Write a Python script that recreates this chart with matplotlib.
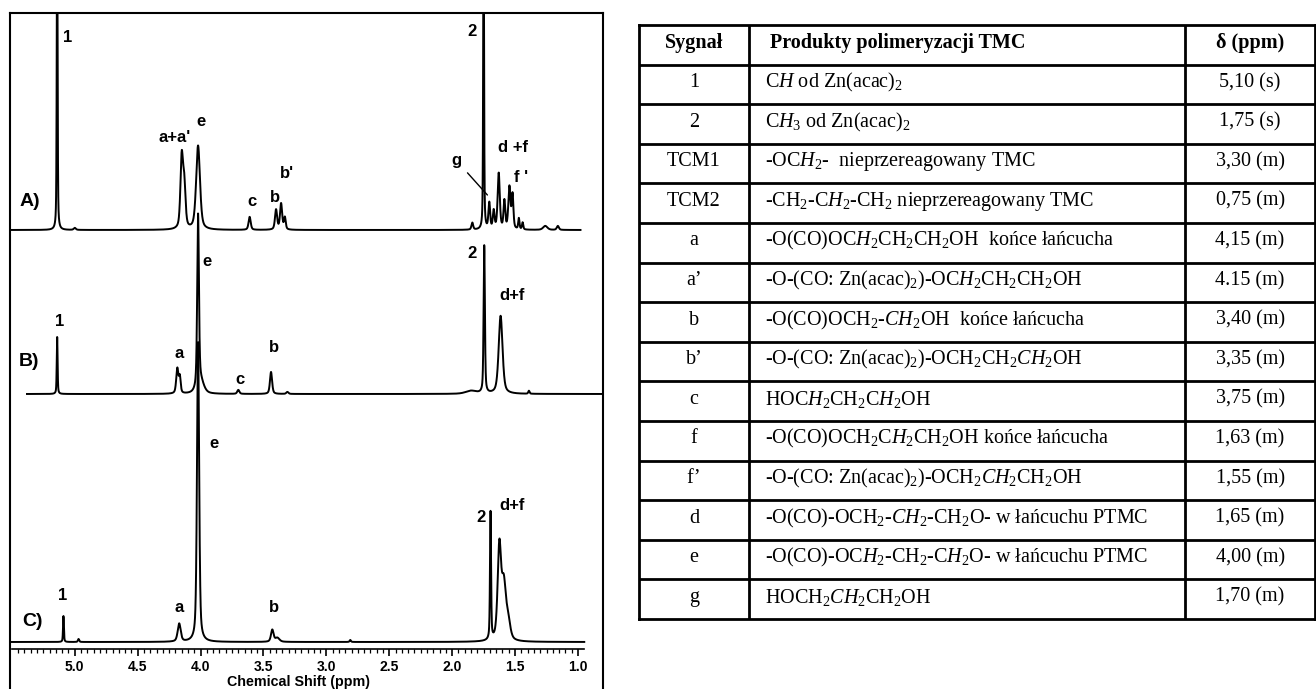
import numpy as np
import matplotlib.pyplot as plt

plt.rcParams['mathtext.fontset'] = 'custom'
plt.rcParams['mathtext.rm'] = 'Liberation Serif'
plt.rcParams['mathtext.it'] = 'Liberation Serif:italic'
plt.rcParams['mathtext.bf'] = 'Liberation Serif:bold'

# peaks: (ppm, height, half width)
peaks_A = [
    (5.14, 320, 0.004), (5.00, 2, 0.010),
    (4.15, 70, 0.012), (4.13, 42, 0.012), (4.02, 84, 0.018),
    (3.61, 13, 0.010), (3.40, 20, 0.010), (3.36, 26, 0.010), (3.33, 12, 0.008),
    (1.84, 7, 0.008), (1.75, 330, 0.004), (1.705, 26, 0.008), (1.67, 18, 0.008),
    (1.63, 56, 0.010), (1.585, 28, 0.008), (1.545, 42, 0.010), (1.52, 34, 0.008),
    (1.47, 11, 0.006), (1.44, 7, 0.006), (1.26, 4, 0.020), (1.16, 4, 0.010),
]
peaks_B = [
    (5.14, 57, 0.004), (4.185, 25, 0.010), (4.165, 16, 0.008),
    (4.02, 172, 0.008), (4.00, 12, 0.030),
    (3.70, 4, 0.010), (3.44, 22, 0.010), (3.31, 2, 0.010),
    (1.85, 3, 0.050), (1.745, 148, 0.006), (1.615, 78, 0.018), (1.39, 3, 0.006),
]
peaks_C = [
    (5.09, 26, 0.004), (4.97, 3, 0.006), (4.17, 18, 0.014),
    (4.02, 300, 0.010), (3.43, 12, 0.012), (3.39, 4, 0.020), (2.81, 2, 0.006),
    (1.695, 128, 0.005), (1.625, 92, 0.016), (1.59, 55, 0.020), (1.555, 18, 0.020),
]
range_A = (5.515, 0.98)
range_B = (5.38, 0.80)
range_C = (5.515, 0.95)
offset_A, offset_B, offset_C = 470, 306, 58

labels_A = [("1", 5.06, 663), ("a+a'", 4.21, 563), ("e", 4.00, 578), ("c", 3.59, 498),
            ("b", 3.41, 503), ("b'", 3.31, 527), ("2", 1.84, 668), ("d +f", 1.52, 552),
            ("f '", 1.45, 523)]
labels_B = [("1", 5.12, 378), ("a", 4.17, 347), ("e", 3.95, 438), ("c", 3.69, 320),
            ("b", 3.42, 353), ("2", 1.84, 447), ("d+f", 1.52, 405)]
labels_C = [("1", 5.10, 105), ("a", 4.17, 93), ("e", 3.89, 257), ("b", 3.42, 93),
            ("2", 1.77, 182), ("d+f", 1.52, 195)]
panels = [("A)", 5.36, 498), ("B)", 5.36, 338), ("C)", 5.34, 78)]

signals = ["Sygnał", "1", "2", "TCM1", "TCM2", "a", "a’", "b", "b’", "c", "f", "f’", "d", "e", "g"]
products = [
    "Produkty polimeryzacji TMC",
    r"C$\mathit{H}$ od Zn(acac)$_2$",
    r"C$\mathit{H_3}$ od Zn(acac)$_2$",
    r"-OC$\mathit{H_2}$-  nieprzereagowany TMC",
    r"-CH$_2$-C$\mathit{H_2}$-CH$_2$ nieprzereagowany TMC",
    r"-O(CO)OC$\mathit{H_2}$CH$_2$CH$_2$OH  końce łańcucha",
    r"-O-(CO: Zn(acac)$_2$)-OC$\mathit{H_2}$CH$_2$CH$_2$OH",
    r"-O(CO)OCH$_2$-$\mathit{CH_2}$OH  końce łańcucha",
    r"-O-(CO: Zn(acac)$_2$)-OCH$_2$CH$_2\mathit{CH_2}$OH",
    r"HOC$\mathit{H_2}$CH$_2$C$\mathit{H_2}$OH",
    r"-O(CO)OCH$_2$C$\mathit{H_2}$CH$_2$OH końce łańcucha",
    r"-O-(CO: Zn(acac)$_2$)-OCH$_2\mathit{CH_2}$CH$_2$OH",
    r"-O(CO)-OCH$_2$-$\mathit{CH_2}$-CH$_2$O- w łańcuchu PTMC",
    r"-O(CO)-OC$\mathit{H_2}$-CH$_2$-C$\mathit{H_2}$O- w łańcuchu PTMC",
    r"HOCH$_2\mathit{CH_2}$CH$_2$OH",
]
shifts = ["δ (ppm)", "5,10 (s)", "1,75 (s)", "3,30 (m)", "0,75 (m)", "4,15 (m)", "4.15 (m)",
          "3,40 (m)", "3,35 (m)", "3,75 (m)", "1,63 (m)", "1,55 (m)", "1,65 (m)",
          "4,00 (m)", "1,70 (m)"]


def spectrum(lo_hi, peaks):
    x = np.linspace(lo_hi[0], lo_hi[1], 8000)
    y = np.zeros_like(x)
    for p, h, w in peaks:
        d = (x - p) / w
        y += h * (0.5 / (1 + d ** 2) + 0.5 * np.exp(-np.log(2) * d ** 2))
    return x, y


W, H = 1316, 689
fig = plt.figure(figsize=(W / 100, H / 100), dpi=100)

# ---- spectrum panel ----
ax = fig.add_axes([10 / W, (H - 700) / H, 593 / W, 687 / H])
ax.set_xlim(5.515, 0.801)
ax.set_ylim(0, 687)
ax.set_xticks([])
ax.set_yticks([])
for s in ax.spines.values():
    s.set_linewidth(1.5)

for rng, pk, off in [(range_A, peaks_A, offset_A), (range_B, peaks_B, offset_B),
                     (range_C, peaks_C, offset_C)]:
    x, y = spectrum(rng, pk)
    ax.plot(x, y + off, color="black", lw=1.4)

lab_font = dict(family="Liberation Sans", fontweight="bold", ha="center", va="center")
for lab in (labels_A, labels_B, labels_C):
    for t, px, py in lab:
        ax.text(px, py, t, fontsize=12, **lab_font)
for t, px, py in panels:
    ax.text(px, py, t, fontsize=14, **lab_font)
ax.annotate("g", xy=(1.72, 505), xytext=(1.97, 540), fontsize=12,
            arrowprops=dict(arrowstyle="-", color="black", lw=1, shrinkA=4, shrinkB=0),
            **lab_font)

sec = ax.secondary_xaxis(51 / 687)
sec.spines["bottom"].set_bounds(5.5, 0.95)
sec.spines["bottom"].set_linewidth(1.2)
sec.set_xticks(np.arange(1.0, 5.01, 0.5))
sec.set_xticks(np.arange(1.0, 5.5, 0.05), minor=True)
sec.tick_params(which="major", length=5, width=1.2, pad=3, direction="out")
sec.tick_params(which="minor", length=3, width=0.9, direction="out")
sec.set_xticklabels([f"{v:.1f}" for v in np.arange(1.0, 5.01, 0.5)],
                    fontsize=10, fontweight="bold", family="Liberation Sans")
ax.text(0.486, 18 / 687, "Chemical Shift (ppm)", transform=ax.transAxes,
        ha="center", va="center", fontsize=10.3, fontweight="bold", family="Liberation Sans")

# ---- table ----
tax = fig.add_axes([639 / W, (H - 619) / H, 676 / W, 594 / H])
n = len(signals)
tax.set_xlim(0, 1)
tax.set_ylim(n, 0)
tax.set_xticks([])
tax.set_yticks([])
for s in tax.spines.values():
    s.set_linewidth(2)
for i in range(1, n):
    tax.axhline(i, color="black", lw=2)
for c in (0.1627, 0.8077):
    tax.axvline(c, color="black", lw=2)

for i in range(n):
    yc = i + 0.45
    wt = "bold" if i == 0 else "normal"
    tax.text(0.0814, yc, signals[i], ha="center", va="center", fontsize=14.5,
             family="Liberation Serif", fontweight=wt)
    tax.text(0.194 if i == 0 else 0.186, yc, products[i], ha="left", va="center",
             fontsize=14.5, family="Liberation Serif", fontweight=wt)
    tax.text(0.904, yc, shifts[i], ha="center", va="center", fontsize=14.5,
             family="Liberation Serif", fontweight=wt)

fig.savefig("out.png", dpi=100)
